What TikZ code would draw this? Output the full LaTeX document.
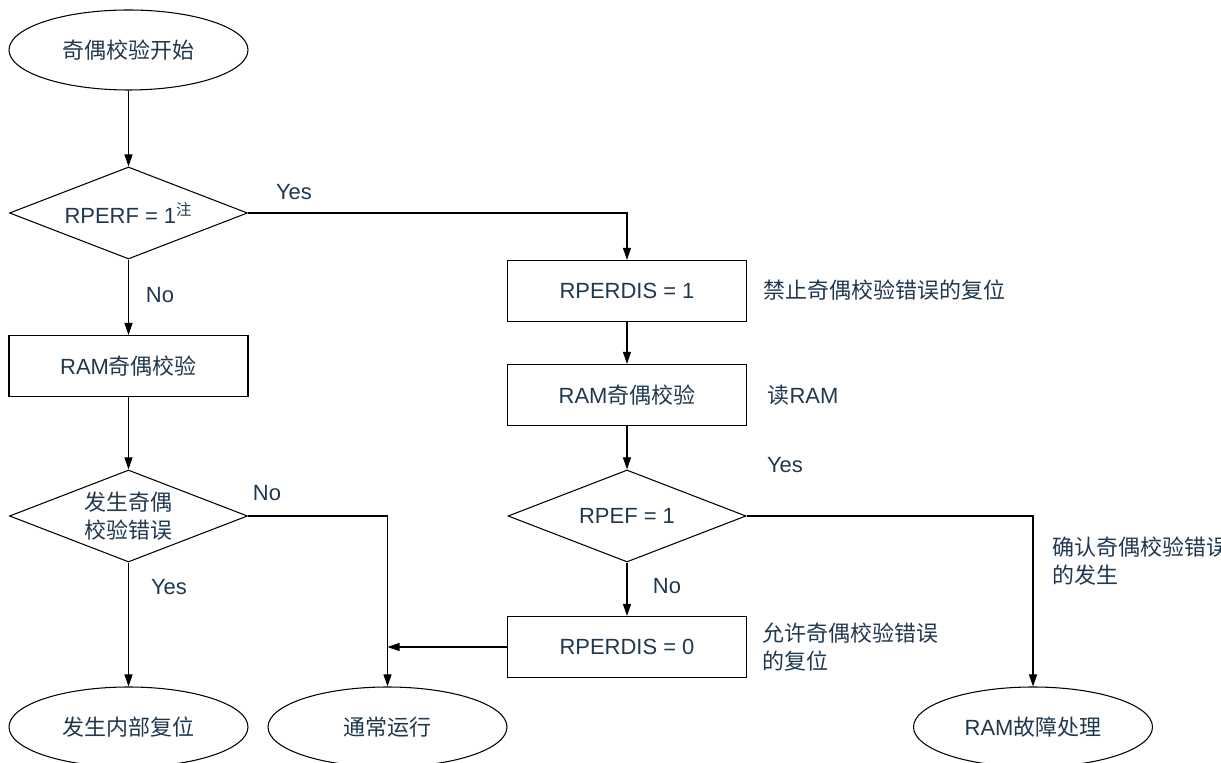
\documentclass[tikz,border=0pt]{standalone}
\usepackage{fontspec}
\setmainfont{Liberation Sans}
\newfontfamily\cjk{Noto Sans CJK SC}
\newcommand{\zhtxt}[1]{{\cjk #1}}
\usetikzlibrary{shapes.geometric,arrows.meta}
\definecolor{txtblue}{RGB}{31,56,80}

\begin{document}
\begin{tikzpicture}[x=1cm,y=1cm,line width=0.6pt,
  font=\fontsize{12.5}{16}\selectfont,
  every node/.style={text=txtblue},
  term/.style={ellipse,draw=black,minimum width=4.78cm,minimum height=1.6cm,inner sep=0pt},
  proc/.style={rectangle,draw=black,minimum width=4.78cm,minimum height=1.22cm,inner sep=0pt},
  decide/.style={diamond,draw=black,shape aspect=2.6,minimum width=4.76cm,minimum height=1.84cm,inner sep=0pt,align=center},
  note/.style={anchor=west,align=left,inner sep=0pt},
  arr/.style={-{Triangle[length=0.24cm,width=0.16cm]}}]
\useasboundingbox (0,0) rectangle (24.42,15.24);

\node[term] (start) at (2.57,14.24) {\zhtxt{奇偶校验开始}};
\node[decide] (rperf) at (2.57,10.98) {RPERF = 1\textsuperscript{\zhtxt{注}}};
\node[proc] (chkl) at (2.57,7.92) {RAM\zhtxt{奇偶校验}};
\node[decide] (err) at (2.57,4.92) {\zhtxt{发生奇偶}\\\zhtxt{校验错误}};
\node[term] (reset) at (2.57,0.70) {\zhtxt{发生内部复位}};
\node[term] (normal) at (7.75,0.70) {\zhtxt{通常运行}};

\node[proc] (dis) at (12.54,9.42) {RPERDIS = 1};
\node[proc] (chkr) at (12.54,7.34) {RAM\zhtxt{奇偶校验}};
\node[decide] (rpef) at (12.54,4.92) {RPEF = 1};
\node[proc] (ena) at (12.54,2.30) {RPERDIS = 0};
\node[term] (fault) at (20.66,0.70) {RAM\zhtxt{故障处理}};

\node (yes1) at (5.88,11.40) {Yes};
\node (no1) at (3.20,9.34) {No};
\node (no2) at (5.34,5.38) {No};
\node (yes2) at (3.38,3.50) {Yes};
\node (yes3) at (15.70,5.94) {Yes};
\node (no3) at (13.34,3.52) {No};

\node[note] (n1) at (15.26,9.44) {\zhtxt{禁止奇偶校验错误的复位}};
\node[note] (n2) at (15.34,7.34) {\zhtxt{读}RAM};
\node[note] (n3) at (15.24,2.30) {\zhtxt{允许奇偶校验错误}\\\zhtxt{的复位}};
\node[note] (n4) at (21.04,4.02) {\zhtxt{确认奇偶校验错误}\\\zhtxt{的发生}};

\draw[arr] (start) -- (rperf);
\draw[arr] (rperf) -- (chkl);
\draw[arr] (chkl) -- (err);
\draw[arr] (err) -- (reset);
\draw[arr] (err.east) -| (normal.north);
\draw[arr] (rperf.east) -| (dis.north);
\draw[arr] (dis) -- (chkr);
\draw[arr] (chkr) -- (rpef);
\draw[arr] (rpef) -- (ena);
\draw[arr] (rpef.east) -| (fault.north);
\draw[arr] (ena.west) -- (ena.west -| normal.north);
\end{tikzpicture}
\end{document}
